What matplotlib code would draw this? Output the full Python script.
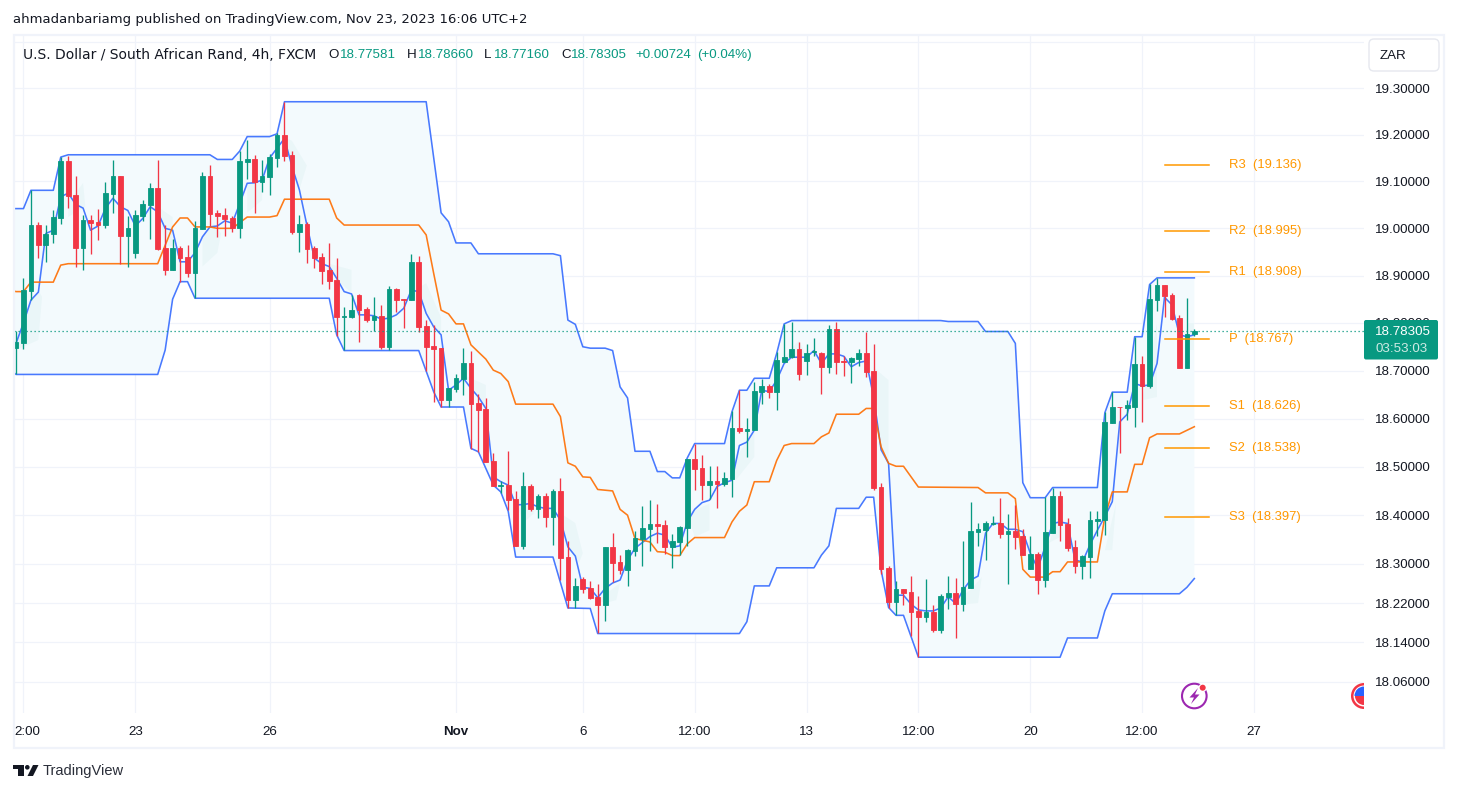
import numpy as np
import matplotlib
matplotlib.use('Agg')
import matplotlib.pyplot as plt
import matplotlib.patches as patches
from matplotlib.ticker import NullLocator, NullFormatter

W, H = 1457, 792
plt.rcParams['font.family'] = ['Liberation Sans', 'DejaVu Sans']

GREEN = '#089981'
RED = '#f23645'
BLUE = '#2962ff'
ORANGE = '#ff6d00'
PIVOT = '#ff9800'
TEXT = '#131722'
GRID = '#f0f3fa'

# candles, one per 4h bar
opens = [18.747, 18.758, 18.868, 19.007, 18.965, 18.989, 19.023, 19.144, 19.071, 18.959,
         19.018, 19.014, 19.007, 19.074, 19.112, 18.984, 18.948, 19.026, 19.050, 19.086,
         18.958, 18.912, 18.958, 18.939, 18.905, 18.998, 19.112, 19.033, 19.028, 19.022,
         19.001, 19.142, 19.148, 19.099, 19.109, 19.150, 19.199, 19.157, 18.992, 19.009,
         18.958, 18.939, 18.912, 18.891, 18.813, 18.812, 18.859, 18.829, 18.806, 18.814,
         18.749, 18.872, 18.850, 18.848, 18.929, 18.793, 18.751, 18.747, 18.638, 18.661,
         18.682, 18.716, 18.632, 18.619, 18.512, 18.461, 18.462, 18.433, 18.337, 18.460,
         18.412, 18.439, 18.396, 18.450, 18.314, 18.226, 18.269, 18.251, 18.232, 18.216,
         18.335, 18.304, 18.287, 18.326, 18.351, 18.371, 18.382, 18.380, 18.335, 18.345,
         18.373, 18.516, 18.497, 18.462, 18.470, 18.464, 18.475, 18.580, 18.574, 18.576,
         18.655, 18.668, 18.655, 18.719, 18.728, 18.745, 18.720, 18.739, 18.737, 18.707,
         18.787, 18.720, 18.718, 18.724, 18.737, 18.699, 18.458, 18.291, 18.222, 18.249,
         18.242, 18.204, 18.191, 18.202, 18.165, 18.232, 18.241, 18.218, 18.251, 18.365,
         18.369, 18.381, 18.384, 18.361, 18.367, 18.357, 18.290, 18.320, 18.267, 18.363,
         18.439, 18.382, 18.335, 18.296, 18.314, 18.389, 18.390, 18.590, 18.624, 18.621,
         18.625, 18.714, 18.668, 18.848, 18.880, 18.859, 18.810, 18.705, 18.77581]
closes = [18.759, 18.869, 19.007, 18.965, 18.989, 19.024, 19.144, 19.069, 18.959, 19.018,
          19.011, 19.007, 19.075, 19.112, 18.984, 19.001, 19.028, 19.052, 19.086, 18.956,
          18.912, 18.958, 18.938, 18.905, 19.001, 19.112, 19.031, 19.026, 19.020, 19.001,
          19.144, 19.148, 19.099, 19.112, 19.152, 19.199, 19.154, 18.992, 19.009, 18.956,
          18.937, 18.910, 18.888, 18.812, 18.814, 18.827, 18.827, 18.806, 18.814, 18.749,
          18.872, 18.848, 18.848, 18.929, 18.791, 18.749, 18.745, 18.638, 18.663, 18.684,
          18.716, 18.630, 18.617, 18.510, 18.460, 18.462, 18.431, 18.337, 18.460, 18.412,
          18.439, 18.396, 18.450, 18.312, 18.226, 18.255, 18.249, 18.231, 18.216, 18.335,
          18.302, 18.287, 18.328, 18.353, 18.373, 18.382, 18.378, 18.335, 18.347, 18.376,
          18.516, 18.495, 18.462, 18.470, 18.464, 18.477, 18.580, 18.574, 18.578, 18.657,
          18.668, 18.655, 18.722, 18.728, 18.745, 18.693, 18.737, 18.742, 18.707, 18.787,
          18.718, 18.718, 18.726, 18.737, 18.697, 18.456, 18.290, 18.222, 18.249, 18.241,
          18.202, 18.191, 18.202, 18.165, 18.234, 18.241, 18.218, 18.253, 18.367, 18.371,
          18.384, 18.383, 18.361, 18.367, 18.355, 18.318, 18.320, 18.267, 18.365, 18.439,
          18.380, 18.333, 18.296, 18.316, 18.390, 18.392, 18.593, 18.623, 18.623, 18.628,
          18.714, 18.668, 18.850, 18.880, 18.857, 18.808, 18.705, 18.777, 18.78305]
highs = [18.782, 18.894, 19.082, 19.013, 19.007, 19.038, 19.153, 19.155, 19.112, 19.028,
         19.028, 19.041, 19.098, 19.146, 19.112, 19.026, 19.038, 19.060, 19.097, 19.146,
         19.007, 18.977, 18.962, 18.965, 19.016, 19.120, 19.135, 19.040, 19.043, 19.026,
         19.165, 19.189, 19.156, 19.146, 19.158, 19.203, 19.271, 19.165, 19.028, 19.014,
         18.962, 18.948, 18.969, 18.937, 18.834, 18.859, 18.861, 18.834, 18.855, 18.838,
         18.878, 18.874, 18.850, 18.946, 18.941, 18.806, 18.796, 18.747, 18.663, 18.693,
         18.747, 18.741, 18.651, 18.642, 18.528, 18.470, 18.532, 18.450, 18.489, 18.464,
         18.443, 18.445, 18.454, 18.477, 18.347, 18.271, 18.273, 18.265, 18.259, 18.335,
         18.363, 18.318, 18.330, 18.367, 18.419, 18.431, 18.423, 18.390, 18.361, 18.378,
         18.516, 18.547, 18.524, 18.501, 18.501, 18.489, 18.615, 18.659, 18.601, 18.676,
         18.682, 18.672, 18.739, 18.798, 18.803, 18.760, 18.756, 18.768, 18.739, 18.796,
         18.802, 18.730, 18.728, 18.745, 18.781, 18.756, 18.466, 18.296, 18.265, 18.249,
         18.275, 18.234, 18.269, 18.216, 18.238, 18.275, 18.271, 18.347, 18.427, 18.384,
         18.388, 18.398, 18.435, 18.402, 18.421, 18.371, 18.357, 18.324, 18.437, 18.456,
         18.450, 18.394, 18.349, 18.318, 18.408, 18.408, 18.613, 18.655, 18.625, 18.638,
         18.770, 18.730, 18.882, 18.895, 18.880, 18.863, 18.817, 18.852, 18.7866]
lows = [18.693, 18.745, 18.848, 18.938, 18.929, 18.968, 19.009, 19.044, 18.919, 18.912,
        18.946, 18.976, 19.001, 19.033, 18.925, 18.919, 18.937, 19.016, 18.978, 18.955,
        18.902, 18.912, 18.887, 18.897, 18.852, 18.998, 19.005, 18.982, 18.984, 18.992,
        18.979, 19.105, 19.033, 19.077, 19.071, 19.130, 19.144, 18.988, 18.950, 18.927,
        18.916, 18.882, 18.871, 18.772, 18.743, 18.810, 18.760, 18.802, 18.783, 18.745,
        18.743, 18.823, 18.789, 18.848, 18.781, 18.699, 18.634, 18.625, 18.623, 18.655,
        18.649, 18.537, 18.530, 18.510, 18.460, 18.445, 18.410, 18.337, 18.330, 18.408,
        18.394, 18.376, 18.339, 18.267, 18.210, 18.210, 18.241, 18.229, 18.159, 18.184,
        18.263, 18.279, 18.255, 18.316, 18.296, 18.326, 18.343, 18.320, 18.291, 18.318,
        18.337, 18.452, 18.431, 18.433, 18.415, 18.460, 18.437, 18.570, 18.520, 18.576,
        18.630, 18.642, 18.617, 18.719, 18.726, 18.680, 18.691, 18.730, 18.651, 18.695,
        18.693, 18.689, 18.674, 18.709, 18.686, 18.452, 18.279, 18.210, 18.195, 18.216,
        18.153, 18.110, 18.181, 18.161, 18.159, 18.208, 18.149, 18.204, 18.251, 18.337,
        18.308, 18.380, 18.353, 18.259, 18.330, 18.318, 18.290, 18.238, 18.253, 18.363,
        18.347, 18.326, 18.281, 18.269, 18.271, 18.357, 18.359, 18.590, 18.528, 18.597,
        18.582, 18.593, 18.664, 18.825, 18.812, 18.806, 18.705, 18.705, 18.7716]

# thin blue line through the candles, one value per bar
mid = [18.757, 18.800, 18.848, 18.865, 18.989, 18.996, 19.067, 19.075, 19.051, 19.043,
       18.996, 19.005, 19.043, 19.064, 19.046, 19.038, 19.005, 19.021, 19.046, 19.035,
       19.000, 18.996, 18.929, 18.929, 18.948, 18.982, 19.003, 19.005, 19.016, 19.011,
       19.053, 19.096, 19.097, 19.103, 19.150, 19.171, 19.192, 19.132, 19.082, 19.007,
       18.937, 18.925, 18.919, 18.894, 18.866, 18.861, 18.817, 18.817, 18.815, 18.808,
       18.810, 18.817, 18.831, 18.869, 18.866, 18.820, 18.792, 18.775, 18.659, 18.670,
       18.684, 18.663, 18.645, 18.621, 18.479, 18.469, 18.462, 18.421, 18.422, 18.424,
       18.417, 18.414, 18.414, 18.390, 18.335, 18.316, 18.252, 18.250, 18.231, 18.250,
       18.261, 18.267, 18.308, 18.332, 18.344, 18.356, 18.363, 18.359, 18.334, 18.337,
       18.386, 18.412, 18.426, 18.431, 18.459, 18.467, 18.472, 18.544, 18.551, 18.576,
       18.659, 18.656, 18.680, 18.715, 18.728, 18.728, 18.728, 18.742, 18.715, 18.735,
       18.735, 18.730, 18.708, 18.717, 18.720, 18.645, 18.535, 18.507, 18.236, 18.236,
       18.218, 18.206, 18.204, 18.204, 18.210, 18.233, 18.219, 18.247, 18.267, 18.275,
       18.363, 18.383, 18.383, 18.371, 18.371, 18.366, 18.322, 18.291, 18.335, 18.383,
       18.386, 18.383, 18.308, 18.304, 18.339, 18.369, 18.397, 18.428, 18.593, 18.609,
       18.673, 18.668, 18.670, 18.715, 18.854, 18.838, 18.775, 18.771, 18.775]

# stepped bands, only the bars where the line bends
upper_bar = [-1, 1, 2, 5, 6, 7, 26, 27, 29, 30, 31, 34, 35, 36, 55, 57, 58, 59, 61, 62, 72, 73, 74, 75,
             76, 77, 79, 80, 81, 82, 83, 85, 86, 87, 88, 89, 90, 91, 95, 96, 97, 98, 99, 101, 102, 103,
             104, 124, 125, 129, 130, 133, 134, 135, 136, 138, 139, 145, 146, 147, 149, 150, 151, 152,
             153, 158]
upper_val = [19.042, 19.042, 19.081, 19.081, 19.152, 19.157, 19.157, 19.147, 19.147, 19.165, 19.196,
             19.196, 19.202, 19.271, 19.271, 19.033, 19.014, 18.969, 18.969, 18.946, 18.946, 18.942,
             18.806, 18.797, 18.750, 18.747, 18.747, 18.742, 18.666, 18.643, 18.532, 18.532, 18.490,
             18.490, 18.477, 18.477, 18.518, 18.548, 18.548, 18.614, 18.659, 18.659, 18.684, 18.684,
             18.736, 18.798, 18.805, 18.805, 18.803, 18.803, 18.782, 18.782, 18.757, 18.467, 18.436,
             18.436, 18.457, 18.457, 18.612, 18.655, 18.655, 18.771, 18.771, 18.881, 18.895, 18.895]
lower_bar = [-1, 0, 19, 20, 21, 22, 23, 24, 42, 43, 44, 54, 56, 57, 60, 61, 62, 64, 65, 66, 67, 72, 74,
             77, 78, 97, 98, 99, 101, 102, 107, 108, 109, 110, 113, 114, 115, 116, 117, 118, 119, 121,
             140, 141, 145, 146, 147, 156, 157, 158]
lower_val = [18.705, 18.692, 18.692, 18.743, 18.850, 18.887, 18.887, 18.852, 18.852, 18.775, 18.742,
             18.742, 18.656, 18.624, 18.624, 18.538, 18.531, 18.462, 18.448, 18.408, 18.314, 18.314,
             18.210, 18.209, 18.158, 18.158, 18.182, 18.255, 18.255, 18.292, 18.292, 18.318, 18.337,
             18.414, 18.414, 18.437, 18.437, 18.287, 18.211, 18.195, 18.195, 18.110, 18.110, 18.149,
             18.149, 18.204, 18.239, 18.239, 18.252, 18.270]
orange_bar = [-1, 0, 1, 2, 5, 6, 7, 19, 21, 22, 23, 24, 26, 27, 29, 31, 34, 35, 36, 42, 43, 44, 54, 55,
              56, 57, 58, 59, 60, 61, 63, 64, 65, 66, 67, 72, 73, 74, 75, 76, 77, 78, 80, 81, 82, 83,
              85, 86, 87, 88, 89, 90, 91, 95, 96, 97, 98, 99, 101, 102, 103, 104, 107, 108, 109, 110,
              113, 114, 115, 116, 117, 118, 119, 121, 129, 130, 133, 134, 135, 136, 138, 139, 140,
              141, 145, 146, 147, 149, 150, 151, 152, 153, 156, 158]
orange_val = [18.870, 18.866, 18.866, 18.886, 18.886, 18.922, 18.925, 18.925, 19.003, 19.022, 19.022,
              19.003, 19.003, 19.000, 19.000, 19.024, 19.024, 19.027, 19.062, 19.062, 19.022, 19.007,
              19.007, 18.986, 18.905, 18.827, 18.819, 18.798, 18.798, 18.754, 18.724, 18.701, 18.694,
              18.677, 18.630, 18.630, 18.604, 18.508, 18.501, 18.479, 18.478, 18.453, 18.450, 18.412,
              18.400, 18.352, 18.345, 18.325, 18.324, 18.317, 18.317, 18.341, 18.354, 18.354, 18.386,
              18.408, 18.421, 18.469, 18.469, 18.513, 18.544, 18.548, 18.548, 18.562, 18.570, 18.609,
              18.609, 18.621, 18.621, 18.541, 18.507, 18.501, 18.501, 18.458, 18.457, 18.446, 18.446,
              18.434, 18.289, 18.273, 18.273, 18.284, 18.284, 18.304, 18.304, 18.397, 18.448, 18.448,
              18.505, 18.505, 18.560, 18.568, 18.568, 18.583]

# faint green patches inside the band
cloud_bars = [[0, 3, 3.5, 3, 2, 0], [7, 9, 9.3, 7], [19, 21, 21, 20], [25, 27, 27.5, 26.5, 25],
              [31, 33, 33, 31], [36, 37, 39, 38], [42, 45, 45, 43], [53.5, 55, 57, 57, 56],
              [60, 63, 63, 62], [67, 69, 69.5, 68], [73, 75, 76, 75.5, 74], [78, 81, 80.5, 79],
              [90, 93, 93, 91], [96, 99, 99, 96.5], [103, 105, 106], [115, 117, 117, 116],
              [125, 129, 129.5, 128], [138.5, 140.5, 140], [146, 147.5, 147], [151, 153, 153],
              [157, 158, 158, 157]]
cloud_vals = [[18.743, 18.764, 18.855, 18.869, 18.848, 18.757], [19.053, 19.097, 19.046, 19.024],
              [19.046, 19.024, 18.962, 18.962], [18.919, 18.948, 18.989, 19.011, 18.982],
              [19.033, 19.060, 19.103, 19.096], [19.194, 19.187, 19.134, 19.082],
              [18.925, 18.912, 18.863, 18.891], [18.869, 18.884, 18.812, 18.779, 18.792],
              [18.691, 18.670, 18.624, 18.645], [18.431, 18.458, 18.404, 18.384],
              [18.404, 18.384, 18.322, 18.302, 18.335], [18.226, 18.261, 18.226, 18.220],
              [18.404, 18.424, 18.369, 18.355], [18.507, 18.576, 18.520, 18.472],
              [18.728, 18.764, 18.728], [18.707, 18.680, 18.507, 18.541],
              [18.214, 18.220, 18.273, 18.247], [18.343, 18.425, 18.355], [18.328, 18.425, 18.328],
              [18.638, 18.800, 18.645], [18.800, 18.800, 18.743, 18.743]]

pivot_names = ['R3', 'R2', 'R1', 'P', 'S1', 'S2', 'S3']
pivot_vals = [19.136, 18.995, 18.908, 18.767, 18.626, 18.538, 18.397]

last_price = 18.78305
price_ticks = [19.40, 19.30, 19.20, 19.10, 19.00, 18.90, 18.80, 18.70, 18.60, 18.50, 18.40, 18.30,
               18.22, 18.14, 18.06]
price_labels = ['', '19.30000', '19.20000', '19.10000', '19.00000', '18.90000', '18.80000', '18.70000',
                '18.60000', '18.50000', '18.40000', '18.30000', '18.22000', '18.14000', '18.06000']
time_ticks = [1, 16, 34, 59, 76, 91, 106, 121, 136, 151, 166]
time_labels = ['', '23', '26', 'Nov', '6', '12:00', '13', '12:00', '20', '12:00', '27']

fig = plt.figure(figsize=(W / 100, H / 100), dpi=100, facecolor='white')

# price pane: x 14-1364, y 35-713 in image pixels
ax = fig.add_axes([14 / W, 1 - 713 / H, 1350 / W, 678 / H])
ax.set_yscale('log')
ax.set_xlim(-0.268, 180.75)
ax.set_ylim(17.9973, 19.4154)
ax.yaxis.set_minor_locator(NullLocator())
ax.yaxis.set_minor_formatter(NullFormatter())
ax.yaxis.tick_right()
ax.set_yticks(price_ticks, price_labels)
ax.set_xticks(time_ticks, time_labels)
ax.tick_params(axis='y', length=0, pad=8, labelsize=9.6, labelcolor=TEXT)
ax.tick_params(axis='x', length=0, pad=9.5, labelsize=9.6, labelcolor=TEXT)
for lab in ax.get_xticklabels():
    if lab.get_text() == 'Nov':
        lab.set_fontweight('bold')
ax.grid(True, color=GRID, lw=0.9)
ax.set_axisbelow(True)
for s in ax.spines.values():
    s.set_visible(False)

# band fill
xs = list(upper_bar) + list(lower_bar)[::-1]
ys = list(upper_val) + list(lower_val)[::-1]
ax.fill(xs, ys, color='#f3fafd', lw=0, zorder=1)
for cb, cv in zip(cloud_bars, cloud_vals):
    ax.fill(cb, cv, color=GREEN, alpha=0.035, lw=0, zorder=1.5)

ax.plot(upper_bar, upper_val, color=BLUE, lw=1.15, alpha=0.85, zorder=2)
ax.plot(lower_bar, lower_val, color=BLUE, lw=1.15, alpha=0.85, zorder=2)
ax.plot(range(len(mid)), mid, color=BLUE, lw=1.15, alpha=0.85, zorder=2)
ax.plot(orange_bar, orange_val, color=ORANGE, lw=1.15, alpha=0.9, zorder=2)

# candles
bars = np.arange(len(opens))
o = np.array(opens)
c = np.array(closes)
cols = [GREEN if c[i] >= o[i] else RED for i in bars]
ax.vlines(bars, lows, highs, colors=cols, lw=0.95, zorder=3)
ax.bar(bars, np.abs(c - o), bottom=np.minimum(o, c), width=0.63, color=cols, edgecolor=cols, lw=0.6, zorder=4)

# last price line
ax.axhline(last_price, color=GREEN, lw=0.9, ls=(0, (1, 2.2)), zorder=5)

# pivots
for name, val in zip(pivot_names, pivot_vals):
    ax.plot([154, 160], [val, val], color=PIVOT, lw=1.1, zorder=5)
    ax.text(162.6, val, name + '  (' + format(val, '.3f') + ')', color=PIVOT, fontsize=9.4,
            va='center', ha='left', zorder=5)

# overlay in image pixels for the tradingview chrome
ov = fig.add_axes([0, 0, 1, 1], zorder=10)
ov.set_xlim(0, W)
ov.set_ylim(H, 0)
ov.axis('off')
ov.patch.set_alpha(0)

# frame
ov.add_patch(patches.Rectangle((13.5, 34.5), 1430, 713, fill=False, edgecolor=GRID, lw=1.6))

ov.text(13, 20, 'ahmadanbariamg published on TradingView.com, Nov 23, 2023 16:06 UTC+2', color=TEXT,
        fontsize=9.5, va='center', family='DejaVu Sans')

# legend row
ov.text(23, 55, 'U.S. Dollar / South African Rand, 4h, FXCM', color=TEXT, fontsize=10, va='center',
        family='DejaVu Sans')
legend_parts = [(328, 'O', TEXT), (340, '18.77581', GREEN), (407, 'H', TEXT), (418, '18.78660', GREEN),
                (484, 'L', TEXT), (494, '18.77160', GREEN), (561, 'C', TEXT),
                (571, '18.78305', GREEN), (635, '+0.00724', GREEN), (697, '(+0.04%)', GREEN)]
for x, s, col in legend_parts:
    ov.text(x, 55, s, color=col, fontsize=9.6, va='center')

# clipped first time label
ov.text(14, 732, '2:00', color=TEXT, fontsize=9.6, va='center')

# currency button
ov.add_patch(patches.FancyBboxPatch((1372, 42), 64, 26, boxstyle='round,pad=3,rounding_size=5',
                                    facecolor='white', edgecolor='#e6e8ef', lw=1))
ov.text(1380, 56, 'ZAR', color=TEXT, fontsize=9.6, va='center')

# last price tag
ov.add_patch(patches.FancyBboxPatch((1364, 320), 74, 39.5, boxstyle='round,pad=0,rounding_size=2',
                                    facecolor=GREEN, edgecolor=GREEN, lw=0))
ov.text(1375, 332, '18.78305', color='white', fontsize=9.6, va='center')
ov.text(1375, 349, '03:53:03', color='#cfeae4', fontsize=9.6, va='center')

# purple lightning icon
ov.add_patch(patches.Circle((1194.3, 696), 12.3, fill=False, edgecolor='#9c27b0', lw=1.5))
ov.add_patch(patches.Polygon([(1198, 688), (1189.5, 697.5), (1194, 697.5), (1191, 704), (1199.5, 694.5),
                              (1195, 694.5)], closed=True, facecolor='#9c27b0', lw=0))
ov.add_patch(patches.Circle((1202.7, 687.7), 4.2, facecolor='white', lw=0))
ov.add_patch(patches.Circle((1202.7, 687.7), 3, facecolor=RED, lw=0))

# flag icon cut at the pane edge
ov.add_patch(patches.Wedge((1364, 696), 13, 90, 270, facecolor=RED, lw=0))
ov.add_patch(patches.Wedge((1364, 696), 10.5, 90, 270, facecolor='white', lw=0))
ov.add_patch(patches.Wedge((1364, 696), 9.5, 180, 270, facecolor='#2962ff', lw=0))
ov.add_patch(patches.Wedge((1364, 696), 9, 90, 180, facecolor=RED, lw=0))

# logo
ov.add_patch(patches.Polygon([(13.3, 765), (23.5, 765), (23.5, 776), (18, 776), (18, 769.3), (13.3, 769.3)],
                             closed=True, facecolor=TEXT, lw=0))
ov.add_patch(patches.Circle((27.3, 767.3), 2.3, facecolor=TEXT, lw=0))
ov.add_patch(patches.Polygon([(33, 765), (38.5, 765), (33, 776), (27.5, 776)], closed=True, facecolor=TEXT, lw=0))
ov.text(43, 771, 'TradingView', color='#2a2e39', fontsize=10.5, va='center')

fig.savefig('out.png', dpi=100, facecolor='white')
